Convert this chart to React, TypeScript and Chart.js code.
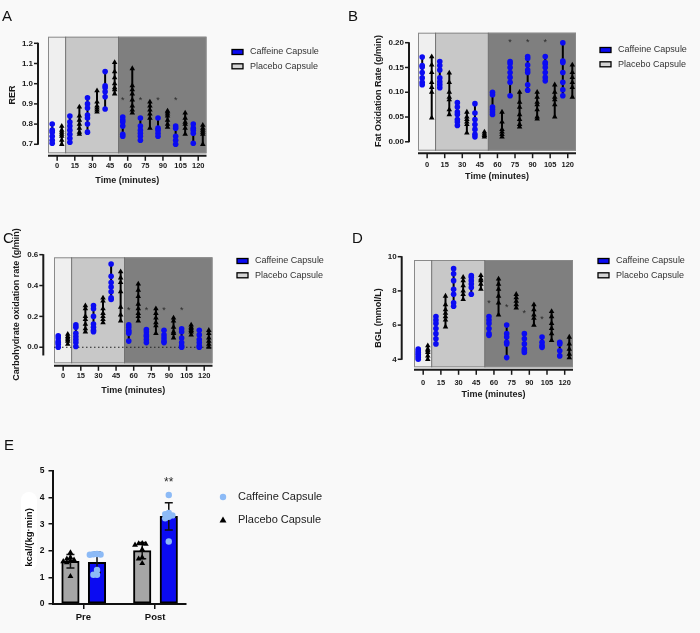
import React, { useEffect, useRef } from 'react';
import { Chart, registerables } from 'chart.js';

Chart.register(...registerables);

const FONT = '"Liberation Sans", Arial, Helvetica, sans-serif';
const PAGE_W = 700;
const PAGE_H = 633;

const TIME_LABELS = ['0', '15', '30', '45', '60', '75', '90', '105', '120'];
const LEGEND_LABELS = ['Caffeine Capsule', 'Placebo Capsule'];
const PHASE_BOUNDS = [0.48, 3.48];

// ---- Panel A: RER ----
const RER_CAFFEINE = [
  [0.80, 0.77, 0.76, 0.74, 0.72, 0.705],
  [0.84, 0.81, 0.79, 0.77, 0.75, 0.73, 0.71],
  [0.93, 0.90, 0.88, 0.845, 0.83, 0.80, 0.76],
  [1.06, 0.99, 0.98, 0.96, 0.935, 0.875],
  [0.835, 0.82, 0.81, 0.79, 0.75, 0.74],
  [0.83, 0.79, 0.77, 0.755, 0.74, 0.72],
  [0.83, 0.78, 0.77, 0.755, 0.74],
  [0.79, 0.78, 0.74, 0.72, 0.70],
  [0.80, 0.78, 0.77, 0.755, 0.705],
];
const RER_PLACEBO = [
  [0.79, 0.77, 0.76, 0.75, 0.74, 0.72, 0.70],
  [0.885, 0.84, 0.82, 0.80, 0.78, 0.76, 0.75],
  [0.965, 0.91, 0.89, 0.88, 0.87, 0.86],
  [1.105, 1.06, 1.03, 1.00, 0.98, 0.97, 0.95],
  [1.075, 0.99, 0.97, 0.95, 0.92, 0.89, 0.87, 0.855],
  [0.91, 0.89, 0.87, 0.85, 0.83, 0.78],
  [0.865, 0.86, 0.85, 0.84, 0.82, 0.80, 0.785],
  [0.855, 0.83, 0.81, 0.80, 0.78, 0.75],
  [0.795, 0.78, 0.77, 0.76, 0.75, 0.70],
];
const RER_TICKS = [0.7, 0.8, 0.9, 1.0, 1.1, 1.2];
const RER_STAR_IDX = [4, 5, 6, 7];
const RER_STAR_Y = [0.93, 0.93, 0.93, 0.93];

// ---- Panel B: fat oxidation ----
const FAT_CAFFEINE = [
  [0.171, 0.154, 0.151, 0.140, 0.129, 0.120, 0.115],
  [0.162, 0.154, 0.145, 0.129, 0.121, 0.115, 0.109],
  [0.079, 0.070, 0.060, 0.055, 0.045, 0.040, 0.033],
  [0.077, 0.058, 0.045, 0.035, 0.025, 0.015, 0.010],
  [0.100, 0.095, 0.070, 0.065, 0.060, 0.055],
  [0.162, 0.158, 0.150, 0.140, 0.130, 0.120, 0.093],
  [0.172, 0.168, 0.155, 0.145, 0.140, 0.115, 0.104],
  [0.172, 0.160, 0.157, 0.150, 0.140, 0.130, 0.123],
  [0.200, 0.163, 0.160, 0.140, 0.120, 0.105, 0.093],
];
const FAT_PLACEBO = [
  [0.172, 0.155, 0.140, 0.120, 0.110, 0.100, 0.048],
  [0.139, 0.120, 0.100, 0.090, 0.085, 0.065, 0.055],
  [0.060, 0.050, 0.045, 0.040, 0.035, 0.018],
  [0.020, 0.016, 0.013, 0.010],
  [0.060, 0.040, 0.025, 0.020, 0.015, 0.010],
  [0.100, 0.080, 0.070, 0.055, 0.045, 0.035, 0.030],
  [0.100, 0.090, 0.080, 0.075, 0.065, 0.050, 0.046],
  [0.115, 0.100, 0.090, 0.085, 0.075, 0.050],
  [0.155, 0.140, 0.130, 0.120, 0.110, 0.090],
];
const FAT_TICKS = [0, 0.05, 0.1, 0.15, 0.2];
const FAT_STAR_IDX = [5, 6, 7];
const FAT_STAR_Y = [0.206, 0.206, 0.206];

// ---- Panel C: carbohydrate oxidation ----
const CHO_CAFFEINE = [
  [0.075, 0.06, 0.04, 0.03, 0.02, 0.0],
  [0.145, 0.13, 0.09, 0.07, 0.05, 0.03, 0.005],
  [0.27, 0.25, 0.2, 0.15, 0.13, 0.11, 0.1],
  [0.54, 0.46, 0.42, 0.39, 0.36, 0.32, 0.31],
  [0.145, 0.13, 0.11, 0.1, 0.09, 0.04],
  [0.115, 0.1, 0.08, 0.07, 0.05, 0.03],
  [0.11, 0.08, 0.06, 0.04, 0.03],
  [0.12, 0.1, 0.06, 0.03, 0.01, 0.0],
  [0.11, 0.08, 0.05, 0.03, 0.01, 0.0],
];
const CHO_PLACEBO = [
  [0.085, 0.07, 0.06, 0.05, 0.04, 0.02],
  [0.27, 0.25, 0.2, 0.18, 0.15, 0.12, 0.1],
  [0.32, 0.3, 0.25, 0.22, 0.2, 0.18, 0.16],
  [0.49, 0.45, 0.42, 0.36, 0.26, 0.21, 0.17],
  [0.41, 0.37, 0.33, 0.28, 0.25, 0.22, 0.2, 0.17],
  [0.25, 0.22, 0.19, 0.16, 0.14, 0.09],
  [0.19, 0.17, 0.13, 0.1, 0.09, 0.06],
  [0.145, 0.13, 0.12, 0.11, 0.1, 0.08],
  [0.11, 0.09, 0.06, 0.04, 0.02, 0.0],
];
const CHO_TICKS = [0, 0.2, 0.4, 0.6];
const CHO_STAR_IDX = [4, 5, 6, 7];
const CHO_STAR_Y = [0.255, 0.255, 0.255, 0.255];

// ---- Panel D: blood glucose ----
const BGL_CAFFEINE = [
  [4.6, 4.5, 4.4, 4.3, 4.2, 4.1, 4.0],
  [6.5, 6.3, 6.1, 5.8, 5.5, 5.2, 4.9],
  [9.3, 9.0, 8.6, 8.1, 7.8, 7.3, 7.1],
  [8.9, 8.8, 8.6, 8.4, 8.2, 7.8],
  [6.5, 6.3, 6.1, 5.8, 5.5, 5.4],
  [6.0, 5.5, 5.3, 5.0, 4.9, 4.1],
  [5.5, 5.2, 4.9, 4.6, 4.5, 4.4],
  [5.3, 5.0, 4.8, 4.7],
  [5.0, 4.9, 4.5, 4.2],
];
const BGL_PLACEBO = [
  [4.8, 4.6, 4.5, 4.4, 4.2, 4.0],
  [7.7, 7.2, 6.9, 6.7, 6.5, 6.3, 5.9],
  [8.8, 8.6, 8.3, 8.0, 7.8, 7.5],
  [8.9, 8.7, 8.6, 8.4, 8.1],
  [8.7, 8.4, 8.1, 7.7, 7.3, 6.6],
  [7.8, 7.6, 7.4, 7.2, 7.0],
  [7.2, 6.9, 6.6, 6.4, 6.0],
  [6.8, 6.5, 6.1, 5.8, 5.5, 5.1],
  [5.3, 4.9, 4.6, 4.3, 4.1],
];
const BGL_TICKS = [4, 6, 8, 10];
const BGL_STAR_IDX = [4, 5, 6, 7];
const BGL_STAR_Y = [7.4, 7.18, 6.85, 6.5];

// ---- Panel E: energy expenditure ----
const E_GROUPS = ['Pre', 'Post'];
const EE_PLACEBO_PRE = [1.93, 1.75, 1.70, 1.66, 1.63, 1.60, 1.56, 1.04];
const EE_PLACEBO_POST = [2.28, 2.27, 2.25, 2.22, 2.05, 1.75, 1.70, 1.53];
const EE_CAFFEINE_PRE = [1.88, 1.87, 1.86, 1.85, 1.28, 1.10, 1.10];
const EE_CAFFEINE_POST = [4.10, 3.42, 3.38, 3.33, 3.28, 3.22, 2.35];
const E_Y_TICKS = [0, 1, 2, 3, 4, 5];
const E_STARS = ['', '**'];
const E_STAR_Y = 4.7;

// ---- styles ----
const BLUE = '#0b0bf2';
const LIGHT_BLUE = '#8cbaf6';
const BAR_GRAY = '#a6a6a6';
const LEGEND_GRAY = '#d4d4d4';
const PHASE_COLORS = ['#efefef', '#c8c8c8', '#7f7f7f'];
const INK = '#1a1a1a';
const BLUE_OFFSET = -0.28;
const BLACK_OFFSET = 0.26;
const X_MIN = -0.52;
const X_MAX = 8.47;

type Box = { l: number; r: number; t: number; b: number };
type TimePanel = {
  letter: string; letterX: number; letterY: number;
  box: Box;
  yMin: number; yMax: number; yTicks: number[]; yDigits: number;
  yAxisX: number; yAxisRange: number[];
  yTitle: string; yTitleX: number; yTitleY: number;
  caffeine: number[][]; placebo: number[][];
  starIdx: number[]; starY: number[];
  xTickPad: number; xTitleY: number;
  legendX: number; legendY: number;
  zeroLine: boolean;
};

const PANELS: TimePanel[] = [
  {
    letter: 'A', letterX: 2, letterY: 21,
    box: { l: 48, r: 206.5, t: 36.7, b: 153.3 },
    yMin: 0.6554, yMax: 1.2327, yTicks: RER_TICKS, yDigits: 1,
    yAxisX: 38, yAxisRange: [0.7, 1.2],
    yTitle: 'RER', yTitleX: 12.3, yTitleY: 95,
    caffeine: RER_CAFFEINE, placebo: RER_PLACEBO,
    starIdx: RER_STAR_IDX, starY: RER_STAR_Y,
    xTickPad: 8.2, xTitleY: 181,
    legendX: 232, legendY: 52, zeroLine: false,
  },
  {
    letter: 'B', letterX: 348, letterY: 21,
    box: { l: 418, r: 576, t: 32.7, b: 150.7 },
    yMin: -0.018, yMax: 0.2202, yTicks: FAT_TICKS, yDigits: 2,
    yAxisX: 409, yAxisRange: [0, 0.2],
    yTitle: 'Fat Oxidation Rate (g/min)', yTitleX: 378.3, yTitleY: 91,
    caffeine: FAT_CAFFEINE, placebo: FAT_PLACEBO,
    starIdx: FAT_STAR_IDX, starY: FAT_STAR_Y,
    xTickPad: 9.8, xTitleY: 176.7,
    legendX: 600, legendY: 50, zeroLine: false,
  },
  {
    letter: 'C', letterX: 3, letterY: 243,
    box: { l: 54, r: 212.5, t: 257.3, b: 363.3 },
    yMin: -0.104, yMax: 0.583, yTicks: CHO_TICKS, yDigits: 1,
    yAxisX: 43.3, yAxisRange: [-0.05, 0.6],
    yTitle: 'Carbohydrate oxidation rate (g/min)', yTitleX: 16.7, yTitleY: 304.5,
    caffeine: CHO_CAFFEINE, placebo: CHO_PLACEBO,
    starIdx: CHO_STAR_IDX, starY: CHO_STAR_Y,
    xTickPad: 8.2, xTitleY: 391,
    legendX: 237, legendY: 261, zeroLine: true,
  },
  {
    letter: 'D', letterX: 352, letterY: 243,
    box: { l: 414, r: 573, t: 260, b: 367.3 },
    yMin: 3.532, yMax: 9.807, yTicks: BGL_TICKS, yDigits: 0,
    yAxisX: 401.7, yAxisRange: [4, 10],
    yTitle: 'BGL (mmol/L)', yTitleX: 378.3, yTitleY: 318,
    caffeine: BGL_CAFFEINE, placebo: BGL_PLACEBO,
    starIdx: BGL_STAR_IDX, starY: BGL_STAR_Y,
    xTickPad: 10.9, xTitleY: 395,
    legendX: 598, legendY: 261, zeroLine: false,
  },
];

function mean(v: number[]) {
  return v.reduce((a, b) => a + b, 0) / v.length;
}
function sd(v: number[]) {
  const m = mean(v);
  return Math.sqrt(v.reduce((a, b) => a + (b - m) * (b - m), 0) / (v.length - 1));
}
function swarm(values: number[], step: number, tol: number): number[] {
  const placed: { v: number; o: number }[] = [];
  return values.map((v) => {
    let o = 0;
    for (let k = 0; k < 30; k++) {
      const cand = k === 0 ? 0 : (k % 2 ? -1 : 1) * Math.ceil(k / 2) * step;
      if (!placed.some((p) => Math.abs(p.v - v) < tol && Math.abs(p.o - cand) < step * 0.9)) {
        o = cand;
        break;
      }
    }
    placed.push({ v, o });
    return o;
  });
}

function drawLetter(ctx: CanvasRenderingContext2D, t: string, x: number, y: number) {
  ctx.save();
  ctx.fillStyle = '#111';
  ctx.font = `15px ${FONT}`;
  ctx.textAlign = 'left';
  ctx.textBaseline = 'alphabetic';
  ctx.fillText(t, x, y);
  ctx.restore();
}

function drawStar(ctx: CanvasRenderingContext2D, text: string, x: number, y: number, size: number) {
  ctx.save();
  ctx.fillStyle = '#2a2a2a';
  ctx.font = `${size}px ${FONT}`;
  ctx.textAlign = 'center';
  ctx.textBaseline = 'alphabetic';
  ctx.fillText(text, x, y + size * 0.58);
  ctx.restore();
}

function makeTimeChart(canvas: HTMLCanvasElement, p: TimePanel) {
  const caffeinePts = p.caffeine.flatMap((vals, i) => vals.map((v) => ({ x: i + BLUE_OFFSET, y: v })));
  const placeboPts = p.placebo.flatMap((vals, i) => vals.map((v) => ({ x: i + BLACK_OFFSET, y: v })));
  const titleSize = 9;
  const lh = titleSize * 1.2;
  const xH = p.xTitleY - p.box.b + lh / 2;

  const plugin = {
    id: 'timePanel' + p.letter,
    beforeDatasetsDraw(chart: any) {
      const { ctx, chartArea: a } = chart;
      const x = chart.scales.x;
      const y = chart.scales.y;
      const b1 = x.getPixelForValue(PHASE_BOUNDS[0]);
      const b2 = x.getPixelForValue(PHASE_BOUNDS[1]);
      ctx.save();
      ctx.fillStyle = PHASE_COLORS[0];
      ctx.fillRect(a.left, a.top, b1 - a.left, a.bottom - a.top);
      ctx.fillStyle = PHASE_COLORS[1];
      ctx.fillRect(b1, a.top, b2 - b1, a.bottom - a.top);
      ctx.fillStyle = PHASE_COLORS[2];
      ctx.fillRect(b2, a.top, a.right - b2, a.bottom - a.top);
      ctx.strokeStyle = '#8a8a8a';
      ctx.lineWidth = 1;
      ctx.strokeRect(a.left + 0.5, a.top + 0.5, a.right - a.left - 1, a.bottom - a.top - 1);
      ctx.strokeStyle = '#707070';
      [b1, b2].forEach((bx) => {
        ctx.beginPath();
        ctx.moveTo(bx, a.top);
        ctx.lineTo(bx, a.bottom);
        ctx.stroke();
      });
      if (p.zeroLine) {
        const zy = y.getPixelForValue(0);
        ctx.strokeStyle = '#222';
        ctx.setLineDash([1.5, 2.5]);
        ctx.beginPath();
        ctx.moveTo(a.left, zy);
        ctx.lineTo(a.right, zy);
        ctx.stroke();
        ctx.setLineDash([]);
      }
      ctx.strokeStyle = '#000';
      ctx.lineWidth = 2;
      const ranges = (groups: number[][], off: number) =>
        groups.forEach((vals, i) => {
          const px = x.getPixelForValue(i + off);
          ctx.beginPath();
          ctx.moveTo(px, y.getPixelForValue(Math.min(...vals)));
          ctx.lineTo(px, y.getPixelForValue(Math.max(...vals)));
          ctx.stroke();
        });
      ranges(p.caffeine, BLUE_OFFSET);
      ranges(p.placebo, BLACK_OFFSET);
      ctx.restore();
    },
    afterDatasetsDraw(chart: any) {
      const { ctx } = chart;
      const x = chart.scales.x;
      const y = chart.scales.y;
      p.starIdx.forEach((idx, k) => {
        drawStar(ctx, '*', x.getPixelForValue(idx + BLUE_OFFSET), y.getPixelForValue(p.starY[k]), 9);
      });
    },
    afterDraw(chart: any) {
      const { ctx, chartArea: a } = chart;
      const x = chart.scales.x;
      const y = chart.scales.y;
      ctx.save();
      ctx.strokeStyle = INK;
      ctx.lineWidth = 2;
      ctx.beginPath();
      ctx.moveTo(p.yAxisX, y.getPixelForValue(p.yAxisRange[1]) - 0.5);
      ctx.lineTo(p.yAxisX, y.getPixelForValue(p.yAxisRange[0]) + 0.5);
      ctx.stroke();
      ctx.lineWidth = 1.5;
      ctx.font = `bold 8px ${FONT}`;
      ctx.fillStyle = INK;
      ctx.textAlign = 'right';
      ctx.textBaseline = 'middle';
      p.yTicks.forEach((t) => {
        const py = y.getPixelForValue(t);
        ctx.beginPath();
        ctx.moveTo(p.yAxisX - 4, py);
        ctx.lineTo(p.yAxisX, py);
        ctx.stroke();
        ctx.fillText(t.toFixed(p.yDigits), p.yAxisX - 5, py);
      });
      ctx.save();
      ctx.translate(p.yTitleX, p.yTitleY);
      ctx.rotate(-Math.PI / 2);
      ctx.font = `bold 9px ${FONT}`;
      ctx.textAlign = 'center';
      ctx.fillText(p.yTitle, 0, 0);
      ctx.restore();
      const axY = a.bottom + 2.5;
      ctx.lineWidth = 2;
      ctx.beginPath();
      ctx.moveTo(a.left, axY);
      ctx.lineTo(a.right, axY);
      ctx.stroke();
      ctx.lineWidth = 1.5;
      TIME_LABELS.forEach((_, i) => {
        const px = x.getPixelForValue(i);
        ctx.beginPath();
        ctx.moveTo(px, axY);
        ctx.lineTo(px, axY + 5);
        ctx.stroke();
      });
      ctx.restore();
      drawLetter(ctx, p.letter, p.letterX, p.letterY);
      ctx.save();
      ctx.font = `9px ${FONT}`;
      ctx.textBaseline = 'middle';
      ctx.textAlign = 'left';
      [BLUE, LEGEND_GRAY].forEach((fill, r) => {
        const ly = p.legendY + r * 14.3;
        ctx.fillStyle = fill;
        ctx.fillRect(p.legendX, ly - 2.5, 11, 5);
        ctx.strokeStyle = '#000';
        ctx.lineWidth = 1.3;
        ctx.strokeRect(p.legendX, ly - 2.5, 11, 5);
        ctx.fillStyle = '#333';
        ctx.fillText(LEGEND_LABELS[r], p.legendX + 18, ly);
      });
      ctx.restore();
    },
  };

  return new Chart(canvas, {
    type: 'scatter',
    data: {
      datasets: [
        {
          label: LEGEND_LABELS[0],
          data: caffeinePts,
          pointStyle: 'circle',
          pointRadius: 2.8,
          backgroundColor: BLUE,
          borderColor: BLUE,
          borderWidth: 0,
        },
        {
          label: LEGEND_LABELS[1],
          data: placeboPts,
          pointStyle: 'triangle',
          pointRadius: 3.2,
          backgroundColor: '#000',
          borderColor: '#000',
          borderWidth: 0,
        },
      ],
    },
    options: {
      responsive: false,
      animation: false,
      devicePixelRatio: 1,
      events: [],
      layout: {
        padding: { left: 0, top: p.box.t, right: PAGE_W - p.box.r, bottom: PAGE_H - p.box.b - xH },
      },
      plugins: { legend: { display: false }, tooltip: { enabled: false } },
      scales: {
        x: {
          type: 'linear',
          min: X_MIN,
          max: X_MAX,
          offset: false,
          afterBuildTicks: (s: any) => {
            s.ticks = TIME_LABELS.map((_, i) => ({ value: i }));
          },
          afterFit: (s: any) => {
            s.height = xH;
          },
          ticks: {
            callback: (v: any) => TIME_LABELS[Math.round(Number(v))] ?? '',
            font: { family: FONT, size: 7.5, weight: 'bold' },
            color: INK,
            padding: p.xTickPad,
            autoSkip: false,
            maxRotation: 0,
          },
          grid: { display: false, drawTicks: false },
          border: { display: false },
          title: {
            display: true,
            text: 'Time (minutes)',
            font: { family: FONT, size: titleSize, weight: 'bold' },
            color: INK,
            padding: 0,
          },
        },
        y: {
          type: 'linear',
          min: p.yMin,
          max: p.yMax,
          afterFit: (s: any) => {
            s.width = p.box.l;
          },
          ticks: { display: false },
          grid: { display: false, drawTicks: false },
          border: { display: false },
        },
      },
    } as any,
    plugins: [plugin as any],
  });
}

const PLA_BAR_OFF = -0.18;
const CAF_BAR_OFF = 0.19;

function makeEnergyChart(canvas: HTMLCanvasElement) {
  const placebo = [EE_PLACEBO_PRE, EE_PLACEBO_POST];
  const caffeine = [EE_CAFFEINE_PRE, EE_CAFFEINE_POST];
  const pts = (groups: number[][], off: number) =>
    groups.flatMap((vals, g) => {
      const o = swarm(vals, 0.05, 0.12);
      return vals.map((v, k) => ({ x: g + off + o[k], y: v }));
    });
  const bars = (groups: number[][], off: number) => groups.map((vals, g) => ({ x: g + off, y: mean(vals) }));

  const plugin = {
    id: 'energyPanel',
    beforeDraw(chart: any) {
      const { ctx } = chart;
      ctx.save();
      ctx.fillStyle = '#ffffff';
      ctx.beginPath();
      (ctx as any).roundRect(21, 492, 16, 78, 8);
      ctx.fill();
      ctx.restore();
    },
    afterDatasetDraw(chart: any, args: any) {
      if (args.index !== 2) return;
      const { ctx } = chart;
      const x = chart.scales.x;
      const y = chart.scales.y;
      ctx.save();
      ctx.strokeStyle = '#111';
      ctx.lineWidth = 1.5;
      const eb = (groups: number[][], off: number) =>
        groups.forEach((vals, g) => {
          const px = x.getPixelForValue(g + off);
          const m = mean(vals);
          const s = sd(vals);
          const top = y.getPixelForValue(m + s);
          const bot = y.getPixelForValue(m - s);
          ctx.beginPath();
          ctx.moveTo(px, top);
          ctx.lineTo(px, bot);
          ctx.moveTo(px - 4, top);
          ctx.lineTo(px + 4, top);
          ctx.moveTo(px - 4, bot);
          ctx.lineTo(px + 4, bot);
          ctx.stroke();
        });
      eb(placebo, PLA_BAR_OFF);
      eb(caffeine, CAF_BAR_OFF);
      ctx.restore();
    },
    afterDraw(chart: any) {
      const { ctx } = chart;
      const x = chart.scales.x;
      const y = chart.scales.y;
      E_STARS.forEach((s, g) => {
        if (s) drawStar(ctx, s, x.getPixelForValue(g + CAF_BAR_OFF), y.getPixelForValue(E_STAR_Y), 12);
      });
      drawLetter(ctx, 'E', 4, 450);
      ctx.save();
      ctx.font = `11px ${FONT}`;
      ctx.textAlign = 'left';
      ctx.textBaseline = 'middle';
      ctx.fillStyle = LIGHT_BLUE;
      ctx.beginPath();
      ctx.arc(223, 497, 3.2, 0, Math.PI * 2);
      ctx.fill();
      ctx.fillStyle = '#000';
      ctx.beginPath();
      ctx.moveTo(223, 516.5);
      ctx.lineTo(226.5, 522.5);
      ctx.lineTo(219.5, 522.5);
      ctx.closePath();
      ctx.fill();
      ctx.fillStyle = '#222';
      ctx.fillText(LEGEND_LABELS[0], 238, 497);
      ctx.fillText(LEGEND_LABELS[1], 238, 520);
      ctx.restore();
    },
  };

  const axisFont = { family: FONT, size: 8.5, weight: 'bold' };
  return new Chart(canvas, {
    type: 'bar',
    data: {
      datasets: [
        {
          type: 'scatter',
          label: LEGEND_LABELS[0],
          data: pts(caffeine, CAF_BAR_OFF),
          pointStyle: 'circle',
          pointRadius: 3.2,
          backgroundColor: LIGHT_BLUE,
          borderColor: LIGHT_BLUE,
          borderWidth: 0,
        },
        {
          type: 'scatter',
          label: LEGEND_LABELS[1],
          data: pts(placebo, PLA_BAR_OFF),
          pointStyle: 'triangle',
          pointRadius: 3.4,
          backgroundColor: '#000',
          borderColor: '#000',
          borderWidth: 0,
        },
        {
          type: 'bar',
          label: LEGEND_LABELS[0],
          data: bars(caffeine, CAF_BAR_OFF),
          backgroundColor: BLUE,
          borderColor: '#000',
          borderWidth: 2,
          borderSkipped: false,
          barThickness: 17.5,
          grouped: false,
        },
        {
          type: 'bar',
          label: LEGEND_LABELS[1],
          data: bars(placebo, PLA_BAR_OFF),
          backgroundColor: BAR_GRAY,
          borderColor: '#000',
          borderWidth: 2,
          borderSkipped: false,
          barThickness: 17.5,
          grouped: false,
        },
      ],
    },
    options: {
      responsive: false,
      animation: false,
      devicePixelRatio: 1,
      events: [],
      layout: { padding: { left: 0, top: 471, right: PAGE_W - 186, bottom: 0 } },
      plugins: { legend: { display: false }, tooltip: { enabled: false } },
      scales: {
        x: {
          type: 'linear',
          min: -0.43,
          max: 1.43,
          offset: false,
          afterBuildTicks: (s: any) => {
            s.ticks = E_GROUPS.map((_, i) => ({ value: i }));
          },
          afterFit: (s: any) => {
            s.height = 29;
          },
          ticks: {
            callback: (v: any) => E_GROUPS[Math.round(Number(v))] ?? '',
            font: { family: FONT, size: 9.5, weight: 'bold' },
            color: '#111',
            padding: 2.5,
            autoSkip: false,
            maxRotation: 0,
          },
          grid: { display: true, drawOnChartArea: false, drawTicks: true, tickLength: 5, color: '#111', lineWidth: 1.5, offset: false },
          border: { display: true, color: '#111', width: 2 },
        },
        y: {
          type: 'linear',
          min: 0,
          max: 5,
          afterBuildTicks: (s: any) => {
            s.ticks = E_Y_TICKS.map((v) => ({ value: v }));
          },
          afterFit: (s: any) => {
            s.width = 52.5;
          },
          ticks: { font: axisFont, color: '#111', padding: 4 },
          grid: { display: true, drawOnChartArea: false, drawTicks: true, tickLength: 4, color: '#111', lineWidth: 1.5 },
          border: { display: true, color: '#111', width: 2 },
          title: {
            display: true,
            text: 'kcal/(kg·min)',
            font: { family: FONT, size: 9.5, weight: 'bold' },
            color: '#111',
            padding: { top: 23.8, bottom: 0 },
          },
        },
      },
    } as any,
    plugins: [plugin as any],
  });
}

export default function App() {
  const canvases = useRef<(HTMLCanvasElement | null)[]>([]);
  useEffect(() => {
    const charts: Chart[] = [];
    PANELS.forEach((p, k) => {
      const c = canvases.current[k];
      if (c) charts.push(makeTimeChart(c, p));
    });
    const ce = canvases.current[4];
    if (ce) charts.push(makeEnergyChart(ce));
    return () => charts.forEach((c) => c.destroy());
  }, []);
  return (
    <div
      style={{
        position: 'fixed',
        left: 0,
        top: 0,
        width: PAGE_W,
        height: PAGE_H,
        background: '#f9f9f9',
        overflow: 'hidden',
      }}
    >
      {[0, 1, 2, 3, 4].map((k) => (
        <canvas
          key={k}
          ref={(el) => {
            canvases.current[k] = el;
          }}
          width={PAGE_W}
          height={PAGE_H}
          style={{ position: 'absolute', left: 0, top: 0, width: PAGE_W, height: PAGE_H }}
        />
      ))}
    </div>
  );
}
